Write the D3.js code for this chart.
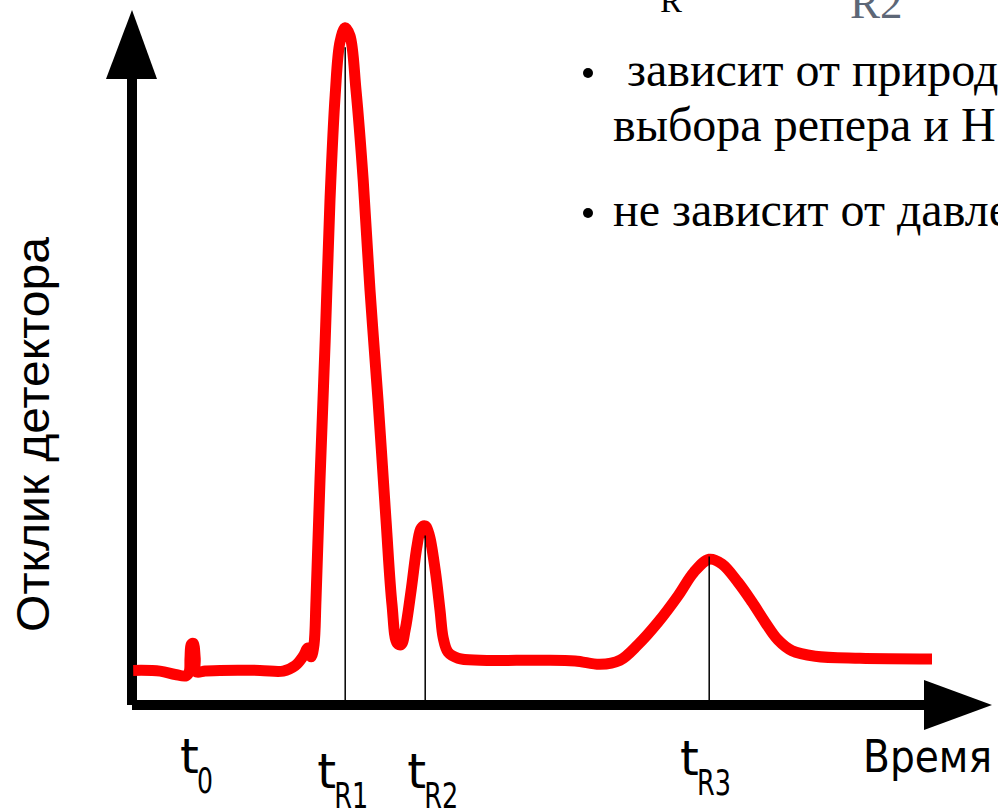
<!DOCTYPE html>
<html>
<head>
<meta charset="utf-8">
<script src="https://cdn.jsdelivr.net/npm/d3@7"></script>
<style>
  body { margin: 0; background: #fff; }
  svg { display: block; }
</style>
</head>
<body>
<div id="chart"></div>
<script>
const width = 998, height = 809

// chromatogram trace: time (arbitrary units) vs detector response (% of max)
const times = [0.03, 0.70, 1.08, 1.35, 1.43, 1.45, 1.48, 1.53, 1.58, 1.60, 1.83, 2.20, 3.20, 3.78,
  4.08, 4.28, 4.40, 4.48, 4.55, 4.60, 4.70, 4.83, 4.95, 5.08, 5.20, 5.33, 5.45, 5.60, 5.78, 5.95,
  6.15, 6.35, 6.50, 6.63, 6.73, 6.83, 6.98, 7.13, 7.23, 7.33, 7.43, 7.58, 7.70, 7.78, 7.90, 8.15,
  8.70, 10.20, 11.08, 11.70, 12.20, 12.65, 13.15, 13.65, 14.05, 14.43, 14.75, 15.15, 15.50, 15.83,
  16.15, 16.50, 17.08, 18.20, 20.00]
const response = [5.1, 5.0, 4.5, 4.3, 4.9, 6.9, 8.9, 9.1, 6.9, 4.9, 5.0, 5.1, 5.1, 5.0,
  5.8, 7.2, 8.4, 7.1, 8.9, 15.5, 33.2, 53.8, 74.5, 90.0, 97.8, 99.9, 98.7, 90.7, 77.4, 61.2,
  45.0, 27.3, 14.8, 9.1, 8.9, 11.1, 17.0, 23.6, 26.1, 26.4, 25.1, 19.9, 14.0, 9.9, 7.8, 6.9,
  6.6, 6.6, 6.5, 6.0, 6.6, 8.9, 12.2, 16.1, 19.6, 21.5, 20.8, 18.1, 15.2, 12.2,
  9.6, 8.0, 7.2, 6.9, 6.8]

// retention times marked with a drop line
const peakTimes = [5.33, 7.33, 14.43]
const peakTops = [97, 25, 21.9]

// time labels: main letter, subscript, time where the label starts
const labelMain = ["t", "t", "t", "t"]
const labelSub = ["0", "R1", "R2", "R3"]
const labelAt = [1.2, 4.63, 6.88, 13.7]

const yTitle = "Отклик детектора"
const xTitle = "Время"

const notes = [" зависит от природ", "выбора репера и Н", "не зависит от давле"]

const x = d3.scaleLinear().domain([0, 20]).range([132, 932])
const y = d3.scaleLinear().domain([0, 100]).range([705, 27])

const svg = d3.select("#chart").append("svg")
  .attr("width", width)
  .attr("height", height)

// axes with arrow heads
svg.append("line")
  .attr("x1", x(0)).attr("x2", x(0))
  .attr("y1", y(0)).attr("y2", 79)
  .attr("stroke", "#000").attr("stroke-width", 10)
svg.append("path")
  .attr("d", `M106,79 L157,79 L${x(0)},10 Z`)
  .attr("fill", "#000")
svg.append("line")
  .attr("x1", x(0)).attr("x2", 924)
  .attr("y1", y(0)).attr("y2", y(0))
  .attr("stroke", "#000").attr("stroke-width", 10)
svg.append("path")
  .attr("d", `M924,680 L924,730 L992,${y(0)} Z`)
  .attr("fill", "#000")

// trace
const pts = times.map((t, i) => [t, response[i]])
const line = d3.line()
  .x(d => x(d[0]))
  .y(d => y(d[1]))
  .curve(d3.curveCatmullRom.alpha(0.5))

svg.append("path")
  .datum(pts)
  .attr("d", line)
  .attr("fill", "none")
  .attr("stroke", "#ff0000")
  .attr("stroke-width", 11)
  .attr("stroke-linejoin", "round")

// drop lines
svg.selectAll(".drop")
  .data(peakTimes)
  .join("line")
  .attr("class", "drop")
  .attr("x1", d => x(d)).attr("x2", d => x(d))
  .attr("y1", (d, i) => y(peakTops[i])).attr("y2", y(0) - 5)
  .attr("stroke", "#000").attr("stroke-width", 1.5)

// time labels
const mainY = [773, 788, 788, 775]
labelMain.forEach((m, i) => {
  svg.append("text")
    .attr("x", x(labelAt[i]))
    .attr("y", mainY[i])
    .attr("font-family", "DejaVu Sans")
    .attr("font-size", 48)
    .text(m)
  svg.append("text")
    .attr("x", x(labelAt[i]) + 17)
    .attr("y", mainY[i] + 20)
    .attr("font-family", "DejaVu Sans")
    .attr("font-size", 36)
    .attr("textLength", labelSub[i].length == 1 ? 16 : 34)
    .attr("lengthAdjust", "spacingAndGlyphs")
    .text(labelSub[i])
})

svg.append("text")
  .attr("x", 863).attr("y", 772)
  .attr("font-family", "DejaVu Sans")
  .attr("font-size", 44)
  .attr("textLength", 129)
  .attr("lengthAdjust", "spacingAndGlyphs")
  .text(xTitle)

svg.append("text")
  .attr("transform", "translate(49,632) rotate(-90)")
  .attr("font-family", "Liberation Sans")
  .attr("font-size", 46)
  .attr("textLength", 395)
  .attr("lengthAdjust", "spacingAndGlyphs")
  .text(yTitle)

// cropped text block from the slide
svg.append("text")
  .attr("x", 660).attr("y", 12)
  .attr("font-family", "Liberation Serif")
  .attr("font-size", 33)
  .text("R")
svg.append("text")
  .attr("x", 850).attr("y", 18)
  .attr("font-family", "Liberation Serif")
  .attr("font-size", 45)
  .attr("fill", "#5d6777")
  .text("R2")

const noteX = [615, 613, 613]
const noteY = [86, 141, 226]
notes.forEach((n, i) => {
  svg.append("text")
    .attr("x", noteX[i]).attr("y", noteY[i])
    .attr("font-family", "Liberation Serif")
    .attr("font-size", 48)
    .attr("xml:space", "preserve")
    .style("white-space", "pre")
    .text(n)
})
svg.selectAll(".bullet")
  .data([0, 2])
  .join("circle")
  .attr("class", "bullet")
  .attr("cx", 588)
  .attr("cy", d => noteY[d] - 13)
  .attr("r", 5)
  .attr("fill", "#000")
</script>
</body>
</html>
